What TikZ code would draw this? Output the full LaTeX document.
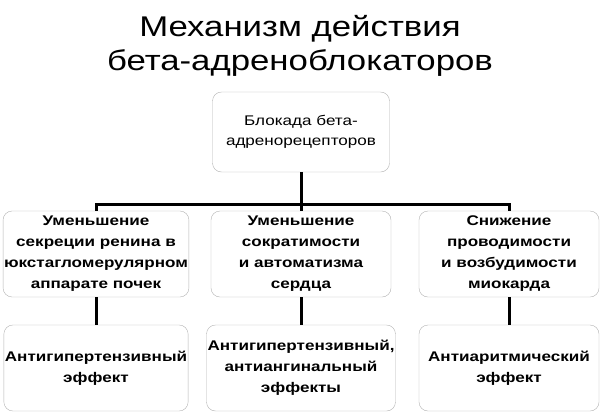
\documentclass[tikz,border=0pt]{standalone}
\usepackage{fontspec}
\setmainfont[FakeStretch=1.22]{Liberation Sans}
\tikzset{
  blok/.style={draw=gray!60, rounded corners=9pt, minimum width=180pt, minimum height=86pt,
    align=center, inner sep=1pt, font=\bfseries\fontsize{14}{21}\selectfont},
  link/.style={line width=3pt}
}
\begin{document}
\begin{tikzpicture}[x=1pt,y=-1pt]
  \useasboundingbox (0,0) rectangle (600,413);
  \node[align=center, font=\fontsize{28.5}{34}\selectfont] (title) at (300,46)
    {Механизм действия\\бета-адреноблокаторов};
  \node[blok, minimum width=177pt, minimum height=80pt, font=\fontsize{14}{20}\selectfont] (top) at (301,132)
    {Блокада бета-\\адренорецепторов};
  \coordinate (bus) at (301,204);
  \foreach \i/\x/\t in {1/96/{Уменьшение\\секреции ренина в\\юкстагломерулярном\\аппарате почек},
                        2/301/{Уменьшение\\сократимости\\и автоматизма\\сердца},
                        3/509/{Снижение\\проводимости\\и возбудимости\\миокарда}}{
    \node[blok] (m\i) at (\x,254) {\t};
  }
  \foreach \i/\x/\t in {1/96/{Антигипертензивный\\эффект},
                        2/301/{Антигипертензивный,\\антиангинальный\\эффекты},
                        3/509/{Антиаритмический\\эффект}}{
    \node[blok] (b\i) at (\x,368) {\t};
    \draw[link] (m\i.south) -- (b\i.north);
  }
  \draw[link] (top.south) -- (bus);
  \draw[link] (m1.north) |- (bus) -| (m3.north);
  \draw[link] (m2.north) -- (bus);
\end{tikzpicture}
\end{document}
